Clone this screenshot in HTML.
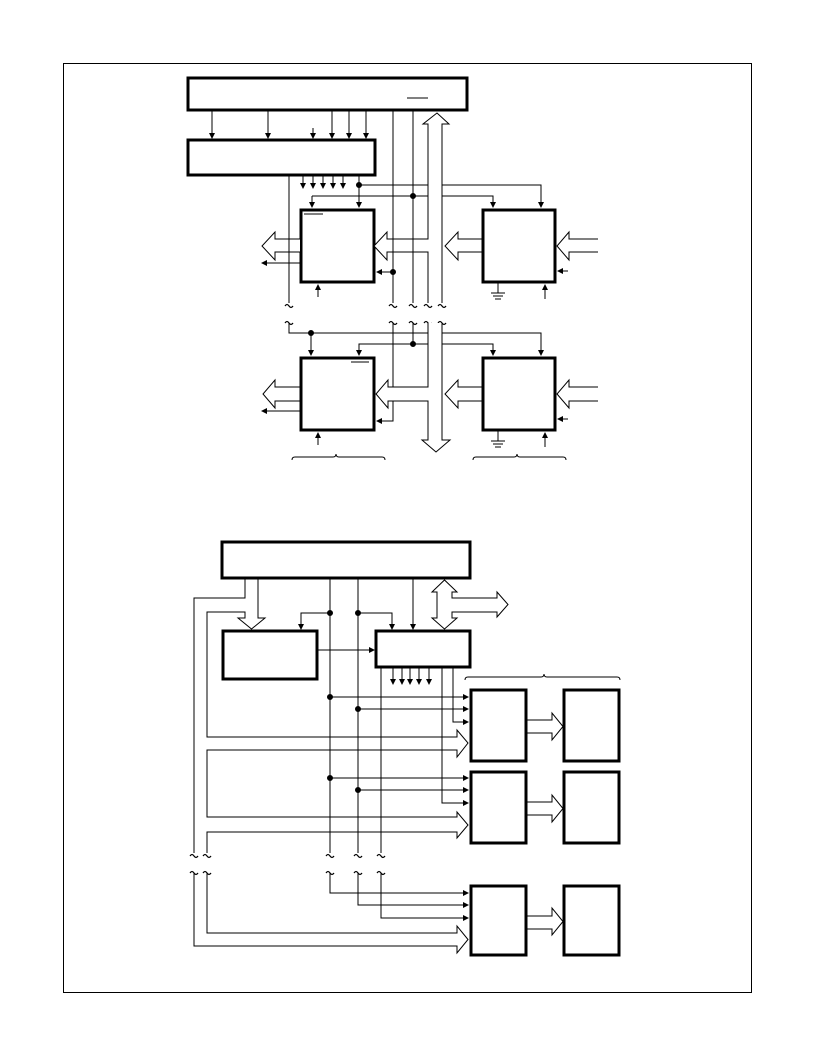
<!DOCTYPE html>
<html><head><meta charset="utf-8"><style>html,body{margin:0;padding:0;background:#fff}svg{display:block}</style></head>
<body>
<svg width="816" height="1056" viewBox="0 0 816 1056" xmlns="http://www.w3.org/2000/svg">
<defs>
<marker id="a" markerWidth="6" markerHeight="6" refX="5" refY="3" orient="auto" markerUnits="userSpaceOnUse"><path d="M0,0 L6,3 L0,6 Z" fill="#000"/></marker>
</defs>
<rect x="63.5" y="63.5" width="688" height="929" fill="none" stroke="#000" stroke-width="1"/>
<g fill="none" stroke="#000" stroke-width="1">
<!-- TOP SECTION -->
<rect x="188" y="78" width="279" height="32" stroke-width="3"/>
<rect x="188" y="140" width="187" height="35" stroke-width="3"/>
<line x1="407" y1="98" x2="428" y2="98"/>
<g marker-end="url(#a)">
<line x1="212" y1="110" x2="212" y2="138"/>
<line x1="268" y1="110" x2="268" y2="138"/>
<line x1="313" y1="128" x2="313" y2="138"/>
<line x1="332" y1="110" x2="332" y2="138"/>
<line x1="349" y1="110" x2="349" y2="138"/>
<line x1="366" y1="110" x2="366" y2="138"/>
<line x1="303" y1="176" x2="303" y2="188"/>
<line x1="313" y1="176" x2="313" y2="188"/>
<line x1="323" y1="176" x2="323" y2="188"/>
<line x1="333" y1="176" x2="333" y2="188"/>
<line x1="343" y1="176" x2="343" y2="188"/>
<line x1="359" y1="176" x2="359" y2="207"/>
<path d="M359,185 H541 V207"/>
<path d="M312,196 H493 V207"/>
<line x1="312" y1="196" x2="312" y2="207"/>
<line x1="300" y1="263" x2="262" y2="263"/>
<line x1="393" y1="272" x2="377" y2="272"/>
<line x1="318" y1="297" x2="318" y2="285"/>
<line x1="545" y1="299" x2="545" y2="285"/>
<line x1="568" y1="271" x2="558" y2="271"/>
</g>
<circle cx="359" cy="185" r="2.5" fill="#000"/>
<circle cx="413" cy="196" r="2.5" fill="#000"/>
<circle cx="393" cy="272" r="2.5" fill="#000"/>
<rect x="301" y="210" width="73" height="72" stroke-width="3"/>
<rect x="483" y="210" width="72" height="72" stroke-width="3"/>
<line x1="304" y1="214" x2="323" y2="214"/>
<line x1="289" y1="176" x2="289" y2="303"/>
<line x1="393" y1="110" x2="393" y2="303"/>
<line x1="413" y1="110" x2="413" y2="303"/>
<!-- bus -->
<path d="M428,303 V252 H387 V260 L374,246 L387,232 V239 H428 V124 H423 L437,113 L449,124 H442 V303" fill="#fff"/>
<line x1="393" y1="230" x2="393" y2="262"/>
<line x1="413" y1="230" x2="413" y2="262"/>
<!-- left out arrow A -->
<path d="M300,239 H275 V232 L262,246 L275,260 V252 H300" fill="#fff"/>
<line x1="289" y1="236" x2="289" y2="262"/>
<!-- B arrows -->
<path d="M482,239 H458 V232 L445,246 L458,260 V252 H482"/>
<path d="M598,239 H569 V232 L557,246 L569,260 V252 H598"/>
<path d="M498,283 V293 M491,293 H505 M493,296 H503 M495,299 H501"/>
<!-- squiggles -->
<g stroke-width="1.2">
<path d="M285,306 q2,-3 4,0 t4,0"/><path d="M389,306 q2,-3 4,0 t4,0"/><path d="M409,306 q2,-3 4,0 t4,0"/><path d="M424,306 q2,-3 4,0 t4,0"/><path d="M438,306 q2,-3 4,0 t4,0"/>
<path d="M285,323 q2,-3 4,0 t4,0"/><path d="M389,323 q2,-3 4,0 t4,0"/><path d="M409,323 q2,-3 4,0 t4,0"/><path d="M424,323 q2,-3 4,0 t4,0"/><path d="M438,323 q2,-3 4,0 t4,0"/>
</g>
<!-- MIDDLE SECTION -->
<g marker-end="url(#a)">
<path d="M289,323 V333 H541 V355"/>
<line x1="311" y1="333" x2="311" y2="355"/>
<path d="M413,323 V344 H359 V355"/>
<path d="M413,344 H493 V355"/>
<line x1="300" y1="411" x2="262" y2="411"/>
<path d="M393,401 V421 H377"/>
<line x1="318" y1="445" x2="318" y2="433"/>
<line x1="545" y1="447" x2="545" y2="433"/>
<line x1="568" y1="419" x2="558" y2="419"/>
</g>
<circle cx="311" cy="333" r="2.5" fill="#000"/>
<circle cx="413" cy="344" r="2.5" fill="#000"/>
<rect x="301" y="358" width="73" height="72" stroke-width="3"/>
<rect x="483" y="358" width="72" height="72" stroke-width="3"/>
<line x1="351" y1="362" x2="369" y2="362"/>
<line x1="393" y1="323" x2="393" y2="387"/>
<path d="M428,323 V387 H388 V380 L376,394 L388,408 V401 H428 V440 H422 L436,452 L450,440 H442 V323" fill="#fff"/>
<path d="M300,387 H275 V380 L263,394 L275,408 V401 H300"/>
<path d="M482,387 H458 V380 L445,394 L458,408 V401 H482"/>
<path d="M598,387 H569 V380 L557,394 L569,408 V401 H598"/>
<path d="M498,431 V441 M491,441 H505 M493,444 H503 M495,447 H501"/>
<path d="M292,460 q0,-3 3,-3 H333 q3,0 3,-3 q0,3 3,3 H382 q3,0 3,3"/>
<path d="M473,460 q0,-3 3,-3 H514 q3,0 3,-3 q0,3 3,3 H563 q3,0 3,3"/>
<!-- BOTTOM SECTION -->
<rect x="222" y="542" width="248" height="36" stroke-width="3"/>
<rect x="223" y="631" width="94" height="48" stroke-width="3"/>
<rect x="376" y="631" width="94" height="36" stroke-width="3"/>
<path d="M245,579 V598 H194 V853"/>
<path d="M207,853 V832 H457 V838 L468,825 L457,812 V817 H207 V750 H457 V757 L468,743 L457,730 V737 H207 V612 H245 V618 H238 L251.5,629 L265,618 H258 V579" fill="none"/>
<path d="M437,592 H432 L444.5,580 L457,592 H452 V598 H497 V592 L508,604.5 L497,617 V612 H452 V618 H457 L444.5,629 L432,618 H437 Z"/>
<line x1="330" y1="579" x2="330" y2="853"/>
<line x1="358" y1="579" x2="358" y2="853"/>
<line x1="381" y1="668" x2="381" y2="853"/>
<g marker-end="url(#a)">
<path d="M330,613 H301 V629"/>
<path d="M358,613 H392 V629"/>
<line x1="413" y1="579" x2="413" y2="629"/>
<line x1="318" y1="650" x2="374" y2="650"/>
<line x1="393" y1="668" x2="393" y2="684"/>
<line x1="402" y1="668" x2="402" y2="684"/>
<line x1="410" y1="668" x2="410" y2="684"/>
<line x1="419" y1="668" x2="419" y2="684"/>
<line x1="429" y1="668" x2="429" y2="684"/>
<line x1="330" y1="697" x2="468" y2="697"/>
<line x1="358" y1="709" x2="468" y2="709"/>
<path d="M453,668 V722 H468"/>
<line x1="330" y1="778" x2="468" y2="778"/>
<line x1="358" y1="790" x2="468" y2="790"/>
<path d="M442,668 V803 H468"/>
<path d="M330,873 V893 H468"/>
<path d="M358,873 V905 H468"/>
<path d="M381,873 V918 H468"/>
</g>
<circle cx="330" cy="613" r="2.5" fill="#000"/>
<circle cx="358" cy="613" r="2.5" fill="#000"/>
<circle cx="330" cy="697" r="2.5" fill="#000"/>
<circle cx="358" cy="709" r="2.5" fill="#000"/>
<circle cx="330" cy="778" r="2.5" fill="#000"/>
<circle cx="358" cy="790" r="2.5" fill="#000"/>
<path d="M465,680 q0,-3 3,-3 H541 q3,0 3,-3 q0,3 3,3 H617 q3,0 3,3"/>
<rect x="471" y="690" width="55" height="71" stroke-width="3"/>
<rect x="564" y="690" width="55" height="71" stroke-width="3"/>
<rect x="471" y="772" width="55" height="71" stroke-width="3"/>
<rect x="564" y="772" width="55" height="71" stroke-width="3"/>
<rect x="471" y="886" width="55" height="69" stroke-width="3"/>
<rect x="564" y="886" width="55" height="69" stroke-width="3"/>
<path d="M527,720 H552 V713 L563,726.5 L552,740 V733 H527"/>
<path d="M527,802 H552 V795 L563,808.5 L552,822 V815 H527"/>
<path d="M527,916 H552 V908 L563,921.5 L552,935 V929 H527"/>
<path d="M194,873 V946 H457 V953 L468,939.5 L457,926 V933 H207 V873"/>
<g stroke-width="1.2">
<path d="M190,856 q2,-3 4,0 t4,0"/><path d="M203,856 q2,-3 4,0 t4,0"/><path d="M326,856 q2,-3 4,0 t4,0"/><path d="M354,856 q2,-3 4,0 t4,0"/><path d="M377,856 q2,-3 4,0 t4,0"/>
<path d="M190,873 q2,-3 4,0 t4,0"/><path d="M203,873 q2,-3 4,0 t4,0"/><path d="M326,873 q2,-3 4,0 t4,0"/><path d="M354,873 q2,-3 4,0 t4,0"/><path d="M377,873 q2,-3 4,0 t4,0"/>
</g>
</g>
</svg>
</body></html>
